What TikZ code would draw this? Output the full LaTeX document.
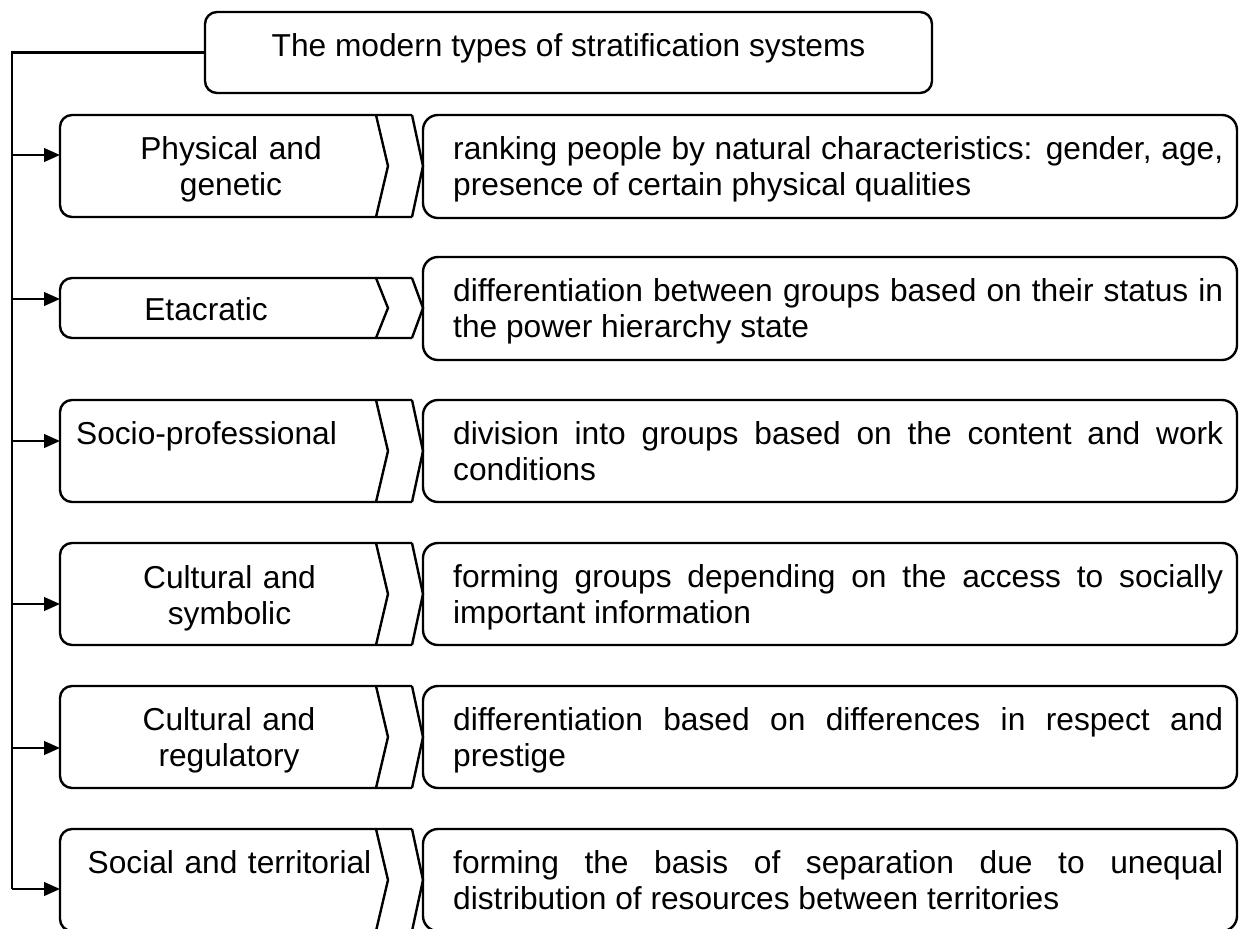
\documentclass[tikz,border=0pt]{standalone}
\usepackage{fontspec}
\setmainfont{Liberation Sans}
\usetikzlibrary{arrows.meta}
\newcommand{\leftshape}[3]{%
  \draw[rounded corners=6pt] (412,#1) -- (60,#1) -- (60,#2) -- (412,#2);
  \draw (412,#1) -- (423,#3) -- (412,#2);
  \draw (376,#1) -- (388,#3) -- (376,#2);}
\newcommand{\rightshape}[2]{%
  \draw[rounded corners=7.5pt] (423,#1) rectangle (1237,#2);}
\begin{document}
\begin{tikzpicture}[x=0.5pt,y=-0.5pt, line width=1.2pt, line join=miter,
  every node/.style={font=\fontsize{15.85pt}{18pt}\selectfont, inner sep=0pt},
  topbox/.style={draw, rounded corners=6pt, minimum width=363.5pt, minimum height=40.5pt, text height=11.5pt, text depth=8pt},
  ltext/.style={text width=170pt, align=center, anchor=base},
  rtext/.style={text width=385pt, align=justify, anchor=base west, execute at begin node={\tolerance=9999\hbadness=10000\hfuzz=20pt}},
  arr/.style={-{Triangle[length=8pt,width=6.8pt]}, line width=1.2pt}]
\useasboundingbox (0,0) rectangle (1239,928);

% title
\node[topbox] (top) at (568.5,52.5) {The modern types of stratification systems};

% left shapes
\leftshape{115}{217}{166}
\leftshape{278}{338}{308}
\leftshape{400}{502}{451}
\leftshape{543}{645}{594}
\leftshape{686}{788}{737}
\leftshape{829}{931}{880}

% right shapes
\rightshape{115}{218}
\rightshape{257}{360}
\rightshape{400}{502}
\rightshape{543}{645}
\rightshape{686}{788}
\rightshape{829}{931}

% left texts
\node[ltext] (L1) at (231,159) {Physical and\\genetic};
\node[ltext] (L2) at (206,320) {Etacratic};
\node[ltext] (L3) at (206.5,444) {Socio-professional};
\node[ltext] (L4) at (229.5,588) {Cultural and\\symbolic};
\node[ltext] (L5) at (229,730) {Cultural and\\regulatory};
\node[ltext] (L6) at (229.5,873) {Social and territorial};

% right texts
\node[rtext] (R1) at (452,159) {ranking people by natural characteristics: gender, age,\linebreak presence of certain physical qualities};
\node[rtext] (R2) at (452,301) {differentiation between groups based on their status in\linebreak the power hierarchy state};
\node[rtext] (R3) at (452,444) {division into groups based on the content and work\linebreak conditions};
\node[rtext] (R4) at (452,587) {forming groups depending on the access to socially\linebreak important information};
\node[rtext] (R5) at (452,730) {differentiation based on differences in respect and\linebreak prestige};
\node[rtext] (R6) at (452,873) {forming the basis of separation due to unequal\linebreak distribution of resources between territories};

% trunk and arrows
\coordinate (t0) at (12,52.5);
\coordinate (tend) at (12,889);
\draw (top.west) -- (t0) -- (tend);
\foreach \i/\y in {1/155,2/299,3/441,4/604,5/748,6/889}{
  \coordinate (a\i) at (12,\y);
  \coordinate (e\i) at (60,\y);
  \draw[arr] (a\i) -- (e\i);
}
\end{tikzpicture}
\end{document}
